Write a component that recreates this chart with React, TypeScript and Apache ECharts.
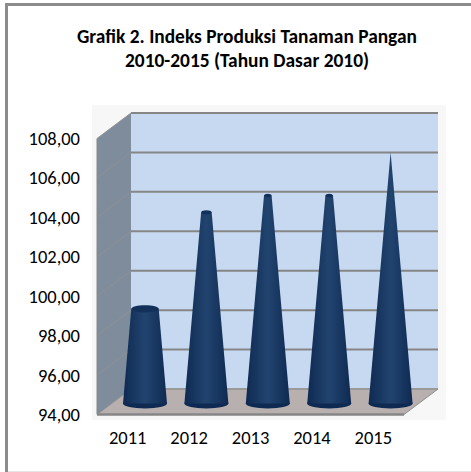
import React, { useEffect, useRef } from "react";
import * as echarts from "echarts";

const titleLines = ["Grafik 2. Indeks Produksi Tanaman Pangan", "2010-2015 (Tahun Dasar 2010)"];
const categories = ["2011", "2012", "2013", "2014", "2015"];
const values = [98.8, 103.7, 104.55, 104.55, 106.75];
const yMin = 94;
const yMax = 108;
const yStep = 2;
const gridValues = [96, 98, 100, 102, 104, 106, 108];

const FONT = "Carlito, Calibri, 'Open Sans', 'Noto Sans', sans-serif";
const DX = 34;
const DY = -25.5;
const BASE_RX = 22;
const APEX = 106.75;

const poly = (points: number[][], fill: any) => ({ type: "polygon", shape: { points }, style: { fill, stroke: "none" } });
const seg = (a: number[], b: number[], stroke: string, lineWidth: number) => ({
  type: "line",
  shape: { x1: a[0], y1: a[1], x2: b[0], y2: b[1] },
  style: { stroke, lineWidth },
});

function renderBox(_p: any, api: any) {
  const band = api.size([1, 0])[0];
  const x0 = api.coord([0, yMin])[0] - band / 2;
  const x1 = x0 + band * categories.length;
  const yB = api.coord([0, yMin])[1];
  const yT = api.coord([0, yMax])[1];
  const fl = [x0, yB];
  const fr = [x1, yB];
  const tl = [x0, yT];
  const shift = (p: number[]) => [p[0] + DX, p[1] + DY];
  const children: any[] = [
    poly([fl, shift(fl), shift(fr), fr], "#B8AFAF"),
    poly([tl, shift(tl), shift(fl), fl], "#7F8C9B"),
    poly([shift(tl), [shift(fr)[0], shift(tl)[1]], shift(fr), shift(fl)], "#C6D9F0"),
  ];
  gridValues.forEach((v) => {
    const y = api.coord([0, v])[1];
    const a = [x0, y];
    const b = shift(a);
    const c = [x1, y];
    children.push(seg(a, b, "#8E9196", 1));
    children.push(seg(b, shift(c), "#868686", 2));
  });
  children.push(seg(shift(fl), shift(fr), "#9A9A9A", 2));
  children.push(seg(fl, shift(fl), "#8E8E8E", 1));
  children.push(seg(shift(fr), fr, "#8E8E8E", 1));
  children.push(seg(fl, fr, "#868686", 2.5));
  children.push(seg(tl, fl, "#868686", 1));
  return { type: "group", children };
}

function renderCone(_p: any, api: any) {
  const idx = api.value(0);
  const v = api.value(1);
  const base = api.coord([idx, yMin]);
  const top = api.coord([idx, v]);
  const cx = base[0] + DX / 2 + 0.3;
  const by = base[1] - 11;
  const ty = top[1] - 11;
  const rx = BASE_RX * (1 - (v - yMin) / (APEX - yMin));
  const ryOf = (r: number) => (r < 0.5 ? 0 : 1.2 + r * 0.17);
  const fill = new echarts.graphic.LinearGradient(0, 0, 1, 0, [
    { offset: 0, color: "#0F2A52" },
    { offset: 0.5, color: "#21446F" },
    { offset: 1, color: "#0F2A52" },
  ]);
  const ry = ryOf(BASE_RX);
  const children: any[] = [
    { type: "ellipse", shape: { cx, cy: by, rx: BASE_RX, ry }, style: { fill: "#0F2A52" } },
    poly([[cx - BASE_RX, by], [cx - rx, ty], [cx + rx, ty], [cx + BASE_RX, by]], fill),
  ];
  if (rx >= 0.5) {
    children.push({ type: "ellipse", shape: { cx, cy: ty, rx, ry: ryOf(rx) }, style: { fill: "#12305A" } });
  }
  return { type: "group", children };
}

export default function App() {
  const ref = useRef<HTMLDivElement>(null);
  useEffect(() => {
    const chart = echarts.init(ref.current!, null, { renderer: "svg" });
    chart.setOption({
      animation: false,
      backgroundColor: "#FFFFFF",
      graphic: [
        { type: "rect", z: -10, silent: true, shape: { x: 92, y: 105, width: 354, height: 315 }, style: { fill: "#F7F7F7" } },
        { type: "rect", shape: { x: 5, y: 3, width: 466, height: 3 }, style: { fill: "#8C8C8C" } },
        { type: "rect", shape: { x: 5, y: 3, width: 3, height: 469 }, style: { fill: "#8C8C8C" } },
        { type: "rect", shape: { x: 8, y: 471, width: 463, height: 1 }, style: { fill: "#E6E6E6" } },
        ...titleLines.map((t, i) => ({
          type: "text",
          style: {
            text: t,
            x: 247,
            y: 36.5 + i * 23.5,
            align: "center",
            verticalAlign: "middle",
            fontFamily: FONT,
            fontSize: 19.4,
            fontWeight: "bold",
            fill: "#000000",
          },
        })),
      ],
      grid: { left: 97, top: 138.5, width: 307, height: 276 },
      xAxis: {
        type: "category",
        data: categories,
        boundaryGap: true,
        axisLine: { show: false },
        axisTick: { show: false },
        axisLabel: { fontFamily: FONT, fontSize: 18.5, color: "#000000", margin: 13 },
      },
      yAxis: {
        type: "value",
        min: yMin,
        max: yMax,
        interval: yStep,
        axisLine: { show: false },
        axisTick: { show: false },
        splitLine: { show: false },
        axisLabel: {
          fontFamily: FONT,
          fontSize: 18.5,
          color: "#000000",
          margin: 17,
          formatter: (v: number) => v.toFixed(2).replace(".", ","),
        },
      },
      series: [
        {
          type: "custom",
          z: 1,
          silent: true,
          clip: false,
          coordinateSystem: "cartesian2d",
          data: [[0, yMin]],
          encode: { x: 0, y: 1 },
          renderItem: renderBox,
        },
        {
          type: "custom",
          z: 2,
          silent: true,
          clip: false,
          coordinateSystem: "cartesian2d",
          data: values.map((v, i) => [i, v]),
          encode: { x: 0, y: 1 },
          renderItem: renderCone,
        },
      ],
    });
    return () => chart.dispose();
  }, []);
  return <div ref={ref} style={{ position: "absolute", left: 0, top: 0, width: 471, height: 472 }} />;
}
